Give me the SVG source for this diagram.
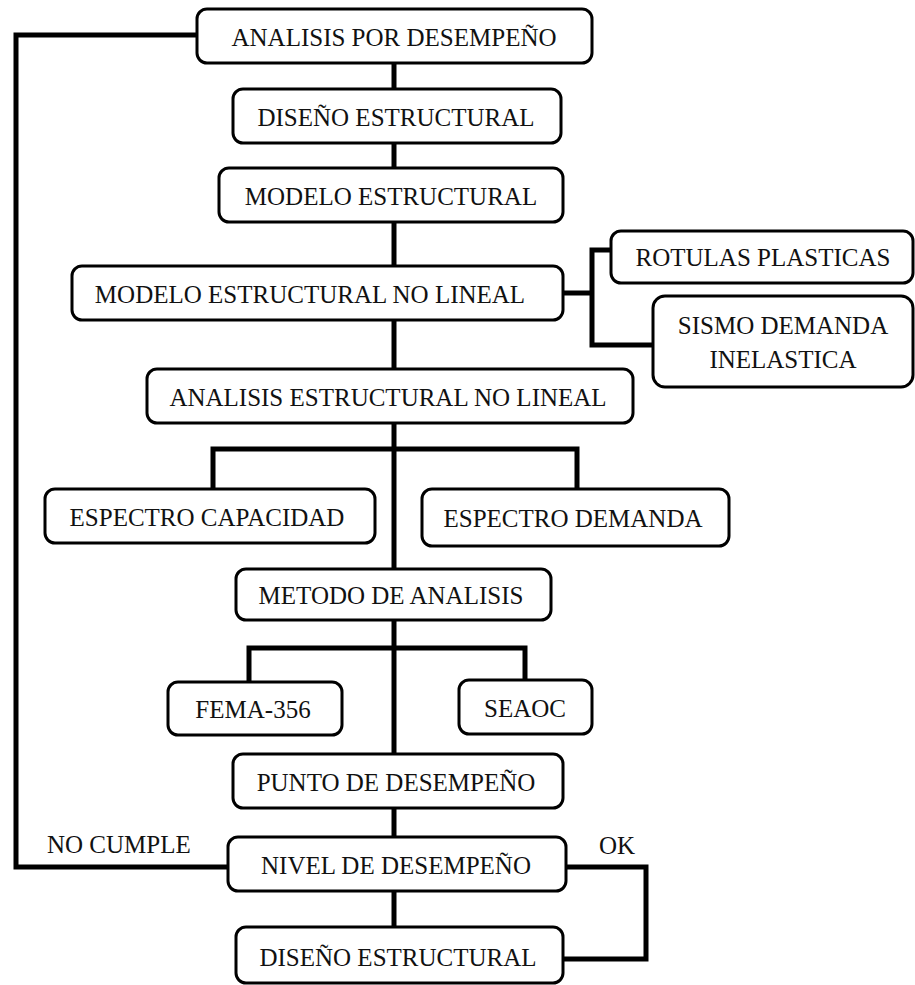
<svg xmlns="http://www.w3.org/2000/svg" width="915" height="985" viewBox="0 0 915 985">
<style>
.box{fill:#fff;stroke:#000;stroke-width:3}
.t{font-family:"Liberation Serif","Times New Roman",serif;font-size:25px;fill:#111;text-anchor:middle}
.l{font-family:"Liberation Serif","Times New Roman",serif;font-size:25px;fill:#111}
.c{fill:none;stroke:#000;stroke-width:5;stroke-linejoin:miter}
</style>
<rect width="915" height="985" fill="#fff"/>
<g id="connectors">
<path class="c" d="M197,35 H16 V867 H228"/>
<path class="c" d="M394,63 V89 M394,143 V168 M394,222 V266 M394,320 V369 M394,423 V569 M394,620 V754 M394,808 V837 M394,891 V927"/>
<path class="c" d="M563,293 H592 M611,250 H592 V345 H653"/>
<path class="c" d="M213,489 V449 H577 V489"/>
<path class="c" d="M249,682 V648 H525 V680"/>
<path class="c" d="M566,867 H646 V959 H563"/>
</g>
<g id="n1"><rect class="box" x="197" y="9" width="395" height="54" rx="10"/><text class="t" x="394" y="46">ANALISIS POR DESEMPEÑO</text></g>
<g id="n2"><rect class="box" x="233" y="89" width="328" height="54" rx="10"/><text class="t" x="396" y="126">DISEÑO ESTRUCTURAL</text></g>
<g id="n3"><rect class="box" x="219" y="168" width="344" height="54" rx="10"/><text class="t" x="391" y="205">MODELO ESTRUCTURAL</text></g>
<g id="n4"><rect class="box" x="72" y="266" width="491" height="54" rx="10"/><text class="t" x="310" y="303">MODELO ESTRUCTURAL  NO LINEAL</text></g>
<g id="n5"><rect class="box" x="611" y="231" width="302" height="52" rx="10"/><text class="t" x="763" y="266">ROTULAS PLASTICAS</text></g>
<g id="n6"><rect class="box" x="653" y="296" width="260" height="91" rx="12"/><text class="t" x="783" y="334">SISMO DEMANDA</text><text class="t" x="783" y="368">INELASTICA</text></g>
<g id="n7"><rect class="box" x="147" y="369" width="486" height="54" rx="10"/><text class="t" x="388" y="406">ANALISIS ESTRUCTURAL NO LINEAL</text></g>
<g id="n8"><rect class="box" x="45" y="489" width="330" height="54" rx="10"/><text class="t" x="207" y="526">ESPECTRO CAPACIDAD</text></g>
<g id="n9"><rect class="box" x="422" y="489" width="307" height="57" rx="10"/><text class="t" x="573" y="527">ESPECTRO DEMANDA</text></g>
<g id="n10"><rect class="box" x="236" y="569" width="315" height="51" rx="10"/><text class="t" x="391" y="604">METODO DE ANALISIS</text></g>
<g id="n11"><rect class="box" x="168" y="682" width="174" height="53" rx="10"/><text class="t" x="253" y="718">FEMA-356</text></g>
<g id="n12"><rect class="box" x="459" y="680" width="133" height="54" rx="10"/><text class="t" x="525" y="717">SEAOC</text></g>
<g id="n13"><rect class="box" x="233" y="754" width="330" height="54" rx="10"/><text class="t" x="396" y="791">PUNTO DE DESEMPEÑO</text></g>
<g id="n14"><rect class="box" x="228" y="837" width="338" height="54" rx="10"/><text class="t" x="396" y="874">NIVEL DE DESEMPEÑO</text></g>
<g id="n15"><rect class="box" x="236" y="927" width="327" height="56" rx="10"/><text class="t" x="398" y="966">DISEÑO ESTRUCTURAL</text></g>
<text class="l" x="47" y="853">NO CUMPLE</text>
<text class="l" x="599" y="854">OK</text>
</svg>
